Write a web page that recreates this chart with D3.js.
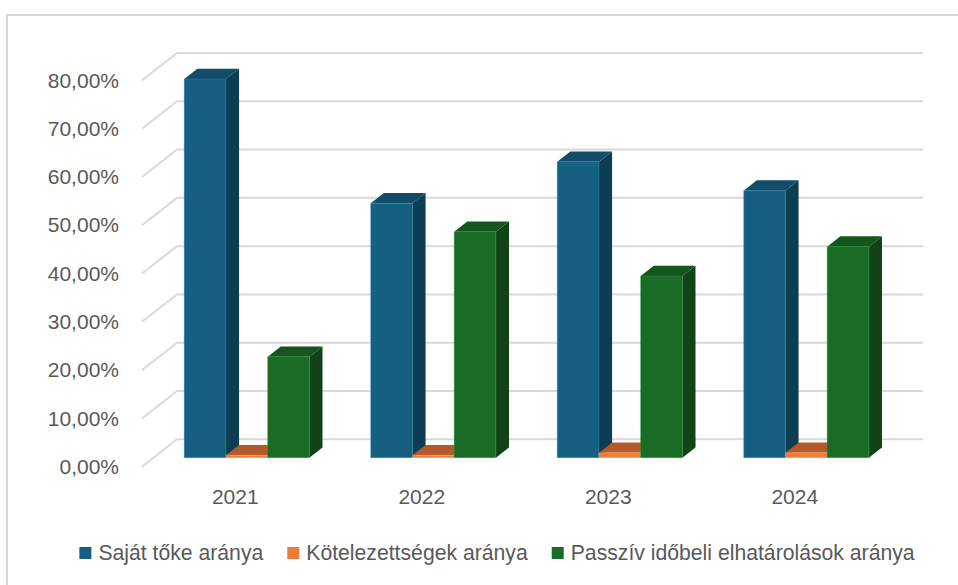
<!DOCTYPE html>
<html>
<head>
<meta charset="utf-8">
<script src="https://cdn.jsdelivr.net/npm/d3@7"></script>
<style>
  body { margin: 0; background: #fff; }
  svg { display: block; font-family: "Liberation Sans", Arial, sans-serif; }
</style>
</head>
<body>
<div id="chart"></div>
<script>
// data
const years = ['2021', '2022', '2023', '2024'];
const seriesNames = ['Saját tőke aránya', 'Kötelezettségek aránya', 'Passzív időbeli elhatárolások aránya'];
const sajatToke = [0.784, 0.527, 0.613, 0.553];
const kotelezettsegek = [0.005, 0.005, 0.010, 0.010];
const passziv = [0.209, 0.468, 0.376, 0.437];
const yTicks = [0, 0.1, 0.2, 0.3, 0.4, 0.5, 0.6, 0.7, 0.8];

const seriesValues = [sajatToke, kotelezettsegek, passziv];
// front, top, side colours per series
const faceColors = [
  ['#165f80', '#134c68', '#0d3d52'],
  ['#ef7a3b', '#b4592a', '#a04c22'],
  ['#1a6b26', '#14561e', '#104418']
];

const W = 958, H = 585;
const svg = d3.select('#chart').append('svg').attr('width', W).attr('height', H);

// outer frame (cut by the window on the right / bottom)
svg.append('rect')
  .attr('x', 7).attr('y', 15).attr('width', 1000).attr('height', 1000)
  .attr('fill', 'none').attr('stroke', '#d9d9d9').attr('stroke-width', 2);

// back wall
const wallLeft = 177, wallRight = 923;
const DX = -35, DY = 27.4;           // back -> front offset
const fFront = 0.67, fBack = 0.295;  // where the bars sit in depth
const proj = (x, y, f) => [x + DX * f, y + DY * f];

const y = d3.scaleLinear().domain([0, 0.8]).range([439.3, 53]);
const x0 = d3.scaleBand().domain(years).range([wallLeft, wallRight]);
const barW = x0.bandwidth() / 4.47;
const gap = (x0.bandwidth() - 3 * barW) / 2;
const x1 = d3.scaleBand().domain(d3.range(3)).range([gap, x0.bandwidth() - gap]);

// gridlines: back wall + left wall diagonal
const grid = svg.append('g').attr('stroke', '#d9d9d9').attr('stroke-width', 2).attr('fill', 'none');
yTicks.forEach(t => {
  grid.append('line')
    .attr('x1', wallLeft).attr('x2', wallRight)
    .attr('y1', y(t)).attr('y2', y(t));
  const p = proj(wallLeft, y(t), 1);
  grid.append('line')
    .attr('x1', p[0]).attr('y1', p[1])
    .attr('x2', wallLeft).attr('y2', y(t));
});

// axes on the front plane
const loc = d3.formatLocale({ decimal: ',', thousands: ' ', grouping: [3], currency: ['', ' Ft'] });
const yFront = y.copy().range(y.range().map(v => v + DY));
const xFront = x0.copy().range([wallLeft + DX, wallRight + DX]);

const yAxis = svg.append('g')
  .attr('transform', `translate(${wallLeft + DX},0)`)
  .call(d3.axisLeft(yFront).tickValues(yTicks).tickFormat(loc.format('.2%')).tickSize(0).tickPadding(23));
const xAxis = svg.append('g')
  .attr('transform', `translate(0,${y(0) + DY})`)
  .call(d3.axisBottom(xFront).tickSize(0).tickPadding(22));
[yAxis, xAxis].forEach(a => {
  a.select('.domain').remove();
  a.selectAll('text')
    .attr('fill', '#595959')
    .style('font-family', '"Liberation Sans", Arial, sans-serif')
    .style('font-size', '21px');
});

// 3d columns, drawn left to right so each bar hides the previous side face
const poly = pts => 'M' + pts.map(p => p.join(',')).join('L') + 'Z';
const bars = svg.append('g');
years.forEach((yr, i) => {
  seriesValues.forEach((vals, s) => {
    const xl = x0(yr) + x1(s), xr = xl + barW;
    const yt = y(vals[i]), yb = y(0);
    const [cf, ct, cs] = faceColors[s];
    const g = bars.append('g');
    g.append('path')
      .attr('d', poly([proj(xr, yt, fFront), proj(xr, yt, fBack), proj(xr, yb, fBack), proj(xr, yb, fFront)]))
      .attr('fill', cs);
    g.append('path')
      .attr('d', poly([proj(xl, yt, fFront), proj(xr, yt, fFront), proj(xr, yt, fBack), proj(xl, yt, fBack)]))
      .attr('fill', ct);
    g.append('path')
      .attr('d', poly([proj(xl, yt, fFront), proj(xr, yt, fFront), proj(xr, yb, fFront), proj(xl, yb, fFront)]))
      .attr('fill', cf)
      .attr('stroke', d3.color(cf).brighter(1.2)).attr('stroke-opacity', 0.5).attr('stroke-width', 0.8);
  });
});

// legend
const legend = svg.append('g');
const items = seriesNames.map((name, s) => {
  const it = legend.append('g');
  it.append('rect').attr('width', 12).attr('height', 12).attr('y', -6).attr('fill', faceColors[s][0]);
  const tx = it.append('text').attr('x', 19).attr('dy', '0.35em')
    .attr('fill', '#595959').style('font-size', '21.2px').text(name);
  return { it, w: 19 + tx.node().getComputedTextLength() };
});
const spacing = 24;
const total = d3.sum(items, d => d.w) + spacing * (items.length - 1);
let lx = 497 - total / 2;
items.forEach(d => {
  d.it.attr('transform', `translate(${lx},553)`);
  lx += d.w + spacing;
});
</script>
</body>
</html>
